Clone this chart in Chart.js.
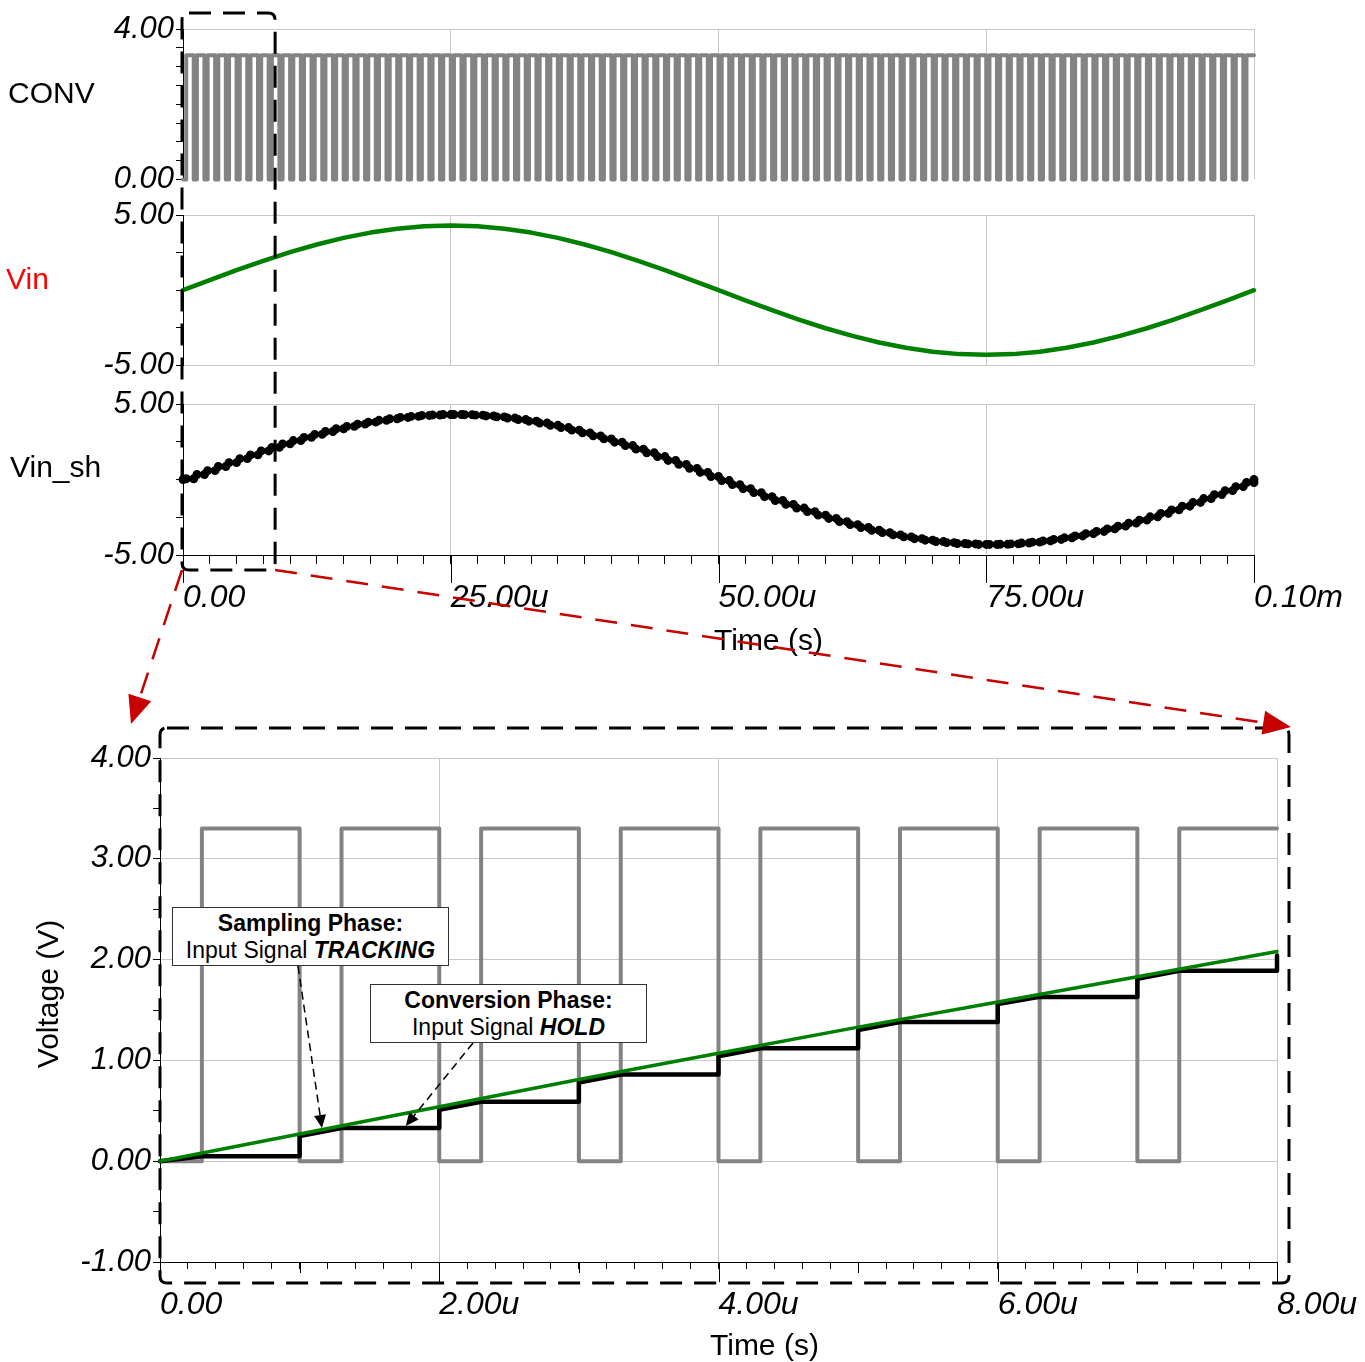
<!DOCTYPE html>
<html>
<head>
<meta charset="utf-8">
<script src="https://cdn.jsdelivr.net/npm/chart.js@4.4.1/dist/chart.umd.min.js"></script>
<style>
  body { margin: 0; background: #fff; font-family: "Liberation Sans", Arial, sans-serif; }
  #page { position: relative; width: 1365px; height: 1362px; overflow: hidden; }
  canvas { position: absolute; left: 0; }
  .lbl { position: absolute; font-size: 30px; line-height: 30px; white-space: nowrap; color: #000; }
  .note { position: absolute; box-sizing: border-box; width: 277px; height: 59px; padding-top: 2px;
          background: #fff; border: 1px solid #333; text-align: center; font-size: 23px; line-height: 27px; }
  #overlay { position: absolute; left: 0; top: 0; }
</style>
</head>
<body>
<div id="page">
  <canvas id="conv" width="1365" height="200" style="top:0px"></canvas>
  <canvas id="vin" width="1365" height="200" style="top:186px"></canvas>
  <canvas id="vinsh" width="1365" height="300" style="top:375px"></canvas>
  <canvas id="zoom" width="1365" height="662" style="top:700px"></canvas>

  <div class="lbl" style="left:8px;top:78px">CONV</div>
  <div class="lbl" style="left:6px;top:264px;color:#ff0000">Vin</div>
  <div class="lbl" style="left:10px;top:452px">Vin_sh</div>
  <div class="lbl" style="left:714px;top:625px">Time (s)</div>
  <div class="lbl" style="left:710px;top:1330px">Time (s)</div>
  <div class="lbl" style="left:-32px;top:979px;width:160px;text-align:center;transform:rotate(-90deg)">Voltage (V)</div>

  <div class="note" style="left:172px;top:907px"><b>Sampling Phase:</b><br>Input Signal <b><i>TRACKING</i></b></div>
  <div class="note" style="left:370px;top:984px"><b>Conversion Phase:</b><br>Input Signal <b><i>HOLD</i></b></div>

  <svg id="overlay" width="1365" height="1362"></svg>
</div>

<script>
// ---- data ----
const topTimeTicks = [0, 25, 50, 75, 100];
const topTimeLabels = ["0.00", "25.00u", "50.00u", "75.00u", "0.10m"];
const zoomTimeTicks = [0, 2, 4, 6, 8];
const zoomTimeLabels = ["0.00", "2.00u", "4.00u", "6.00u", "8.00u"];

// CONV clock: 1us period, goes high 0.3us into each period, low again at the period end
const convHigh = 3.3;
const convRise = 0.3;
const convFall = 1.0;
const convPeriodsTop = 100;
const convPeriodsZoom = 8;

// Vin over the full 0.1ms window, one value every 2.5us
const vinStep = 2.5;
const vinValues = [
  0, 0.67, 1.33, 1.95, 2.53, 3.04, 3.48, 3.83, 4.09, 4.25,
  4.30, 4.25, 4.09, 3.83, 3.48, 3.04, 2.53, 1.95, 1.33, 0.67,
  0, -0.67, -1.33, -1.95, -2.53, -3.04, -3.48, -3.83, -4.09, -4.25,
  -4.30, -4.25, -4.09, -3.83, -3.48, -3.04, -2.53, -1.95, -1.33, -0.67,
  0,
];

// Vin_sh held level in each 1us conversion period
const vinShHold = [
  0.05, 0.33, 0.59, 0.86, 1.12, 1.38, 1.63, 1.89, 2.13, 2.36,
  2.58, 2.79, 2.99, 3.18, 3.36, 3.52, 3.67, 3.80, 3.92, 4.02,
  4.11, 4.18, 4.24, 4.27, 4.30, 4.30, 4.29, 4.26, 4.21, 4.15,
  4.07, 3.97, 3.86, 3.74, 3.59, 3.44, 3.27, 3.09, 2.89, 2.69,
  2.47, 2.25, 2.01, 1.77, 1.52, 1.26, 1.00, 0.74, 0.47, 0.20,
  -0.07, -0.34, -0.61, -0.87, -1.14, -1.39, -1.65, -1.89, -2.13, -2.36,
  -2.58, -2.79, -2.99, -3.18, -3.36, -3.52, -3.67, -3.80, -3.92, -4.02,
  -4.11, -4.18, -4.24, -4.27, -4.30, -4.30, -4.29, -4.26, -4.21, -4.15,
  -4.07, -3.97, -3.86, -3.74, -3.59, -3.44, -3.27, -3.09, -2.89, -2.69,
  -2.47, -2.25, -2.01, -1.77, -1.52, -1.26, -1.00, -0.74, -0.47, -0.20,
];

// zoomed view, 0 - 8us
const zoomVinTime = [0, 1, 2, 3, 4, 5, 6, 7, 8];
const zoomVinValues = [0, 0.27, 0.54, 0.81, 1.07, 1.33, 1.58, 1.83, 2.08];
const zoomShTime = [0, 0.3, 1.0, 1.0, 1.3, 2.0, 2.0, 2.3, 3.0, 3.0, 3.3, 4.0, 4.0,
  4.3, 5.0, 5.0, 5.3, 6.0, 6.0, 6.3, 7.0, 7.0, 7.3, 8.0, 8.0];
const zoomShValues = [0, 0.05, 0.05, 0.25, 0.33, 0.33, 0.51, 0.59, 0.59, 0.78, 0.86, 0.86, 1.04,
  1.12, 1.12, 1.30, 1.38, 1.38, 1.56, 1.63, 1.63, 1.81, 1.89, 1.89, 2.04];

// ---- helpers ----
const FONT = "'Liberation Sans', Arial, sans-serif";
const GRID = "#c8c8c8";
const GRAY = "#838383";
const GREEN = "#008000";
const near = (a, b) => Math.abs(a - b) < 1e-6;
const pairs = (xs, ys) => xs.map((x, i) => ({ x: x, y: ys[i] }));

function clockPoints(periods) {
  const pts = [{ x: 0, y: 0 }];
  for (let n = 0; n < periods; n++) {
    pts.push({ x: n + convRise, y: 0 }, { x: n + convRise, y: convHigh }, { x: n + convFall, y: convHigh });
    if (n + convFall < periods) pts.push({ x: n + convFall, y: 0 });
  }
  return pts;
}

function holdPoints() {
  const pts = [{ x: 0, y: 0 }];
  vinShHold.forEach((v, n) => {
    pts.push({ x: n + convRise, y: v }, { x: n + convFall, y: v });
  });
  pts.push({ x: convPeriodsTop, y: vinValues[vinValues.length - 1] });
  return pts;
}

// extra-long tick marks on the time axis
const longTicks = {
  id: "longTicks",
  afterDraw(chart, args, opts) {
    if (!opts.sets) return;
    const x = chart.scales.x;
    const ctx = chart.ctx;
    ctx.save();
    ctx.strokeStyle = "#000";
    ctx.lineWidth = 1;
    opts.sets.forEach((set) => {
      set.values.forEach((v) => {
        const px = Math.round(x.getPixelForValue(v)) + 0.5;
        ctx.beginPath();
        ctx.moveTo(px, x.top);
        ctx.lineTo(px, x.top + set.length);
        ctx.stroke();
      });
    });
    ctx.restore();
  },
};

function yAxis(min, max, step, labelAt, gridAt, width) {
  return {
    min: min,
    max: max,
    afterFit: (s) => { s.width = width; },
    border: { display: true, color: "#000", width: 1 },
    grid: {
      color: (c) => (gridAt.some((v) => near(v, c.tick.value)) ? GRID : "rgba(0,0,0,0)"),
      tickColor: "#000",
      tickLength: 7,
    },
    ticks: {
      stepSize: step,
      autoSkip: false,
      padding: 2,
      color: "#000",
      font: { family: FONT, size: 31, style: "italic" },
      callback: (v) => (labelAt.some((l) => near(l, v)) ? v.toFixed(2) : ""),
    },
  };
}

function xAxis(max, step, gridEvery, height, showTicks, tickValues, tickLabels, padding, tickLength) {
  return {
    type: "linear",
    min: 0,
    max: max,
    afterFit: (s) => {
      s.height = height;
      s.paddingLeft = 0;
      s.paddingRight = 0;
    },
    border: { display: showTicks, color: "#000", width: 1 },
    grid: {
      color: (c) => {
        const v = c.tick.value;
        return v > 0 && near(v / gridEvery, Math.round(v / gridEvery)) ? GRID : "rgba(0,0,0,0)";
      },
      tickColor: "#000",
      tickLength: tickLength,
      drawTicks: showTicks,
    },
    ticks: {
      display: showTicks,
      stepSize: step,
      autoSkip: false,
      maxRotation: 0,
      minRotation: 0,
      align: "start",
      padding: padding,
      color: "#000",
      font: { family: FONT, size: 32, style: "italic" },
      callback: (v) => {
        const i = tickValues.findIndex((t) => near(t, v));
        return i >= 0 ? tickLabels[i] : "";
      },
    },
  };
}

function baseOptions(padding, scales, plugins) {
  return {
    responsive: false,
    animation: false,
    events: [],
    layout: { padding: padding },
    elements: { point: { radius: 0 }, line: { tension: 0 } },
    plugins: Object.assign({ legend: { display: false }, tooltip: { enabled: false } }, plugins || {}),
    scales: scales,
  };
}

const lineStyle = (color, width) => ({
  borderColor: color,
  backgroundColor: color,
  borderWidth: width,
  borderJoinStyle: "round",
  borderCapStyle: "round",
  pointRadius: 0,
  fill: false,
  clip: 6,
});

const topPad = { left: 0, right: 111, top: 29, bottom: 20 };

const convChart = new Chart(document.getElementById("conv"), {
  type: "line",
  data: { datasets: [Object.assign({ data: clockPoints(convPeriodsTop) }, lineStyle(GRAY, 4))] },
  options: baseOptions(topPad, {
    x: xAxis(100, 2.5, 25, 0, false, topTimeTicks, topTimeLabels, 15, 9),
    y: yAxis(0, 4, 0.5, [0, 4], [4], 183),
  }),
});

const vinChart = new Chart(document.getElementById("vin"), {
  type: "line",
  data: {
    datasets: [Object.assign({ data: vinValues.map((v, i) => ({ x: i * vinStep, y: v })) }, lineStyle(GREEN, 4.5))],
  },
  options: baseOptions(topPad, {
    x: xAxis(100, 2.5, 25, 0, false, topTimeTicks, topTimeLabels, 15, 9),
    y: yAxis(-5, 5, 2.5, [-5, 5], [-5, 5], 183),
  }),
});

const vinShChart = new Chart(document.getElementById("vinsh"), {
  type: "line",
  data: {
    datasets: [Object.assign({ data: holdPoints() }, lineStyle("#000", 4.5), { pointRadius: 2.2 })],
  },
  options: baseOptions({ left: 0, right: 111, top: 29, bottom: 0 }, {
    x: xAxis(100, 2.5, 25, 120, true, topTimeTicks, topTimeLabels, 15, 9),
    y: yAxis(-5, 5, 2.5, [-5, 5], [5], 183),
  }, { longTicks: { sets: [{ values: topTimeTicks, length: 28 }] } }),
  plugins: [longTicks],
});

const zoomChart = new Chart(document.getElementById("zoom"), {
  type: "line",
  data: {
    datasets: [
      Object.assign({ data: pairs(zoomVinTime, zoomVinValues), order: 0 }, lineStyle(GREEN, 3.5)),
      Object.assign({ data: pairs(zoomShTime, zoomShValues), order: 1 }, lineStyle("#000", 4.5)),
      Object.assign({ data: clockPoints(convPeriodsZoom), order: 2 }, lineStyle(GRAY, 4)),
    ],
  },
  options: baseOptions({ left: 0, right: 88, top: 58, bottom: 0 }, {
    x: xAxis(8, 0.2, 2, 100, true, zoomTimeTicks, zoomTimeLabels, 17, 7),
    y: yAxis(-1, 4, 0.5, [-1, 0, 1, 2, 3, 4], [0, 1, 2, 3, 4], 160),
  }, {
    longTicks: { sets: [{ values: [1, 3, 5, 7], length: 11 }, { values: zoomTimeTicks, length: 20 }] },
  }),
  plugins: [longTicks],
});

// ---- overlay: zoom boxes, red arrows, annotation leaders ----
const svg = document.getElementById("overlay");
const NS = "http://www.w3.org/2000/svg";

function add(tag, attrs) {
  const el = document.createElementNS(NS, tag);
  Object.keys(attrs).forEach((k) => el.setAttribute(k, attrs[k]));
  svg.appendChild(el);
  return el;
}

function roundRect(x1, y1, x2, y2, r) {
  return `M${x1 + r},${y1} H${x2 - r} Q${x2},${y1} ${x2},${y1 + r} V${y2 - r} Q${x2},${y2} ${x2 - r},${y2} ` +
    `H${x1 + r} Q${x1},${y2} ${x1},${y2 - r} V${y1 + r} Q${x1},${y1} ${x1 + r},${y1} Z`;
}

function arrow(x1, y1, x2, y2, color, width, dash, headLen, headHalf) {
  const len = Math.hypot(x2 - x1, y2 - y1);
  const ux = (x2 - x1) / len;
  const uy = (y2 - y1) / len;
  const bx = x2 - ux * headLen;
  const by = y2 - uy * headLen;
  add("line", { x1: x1, y1: y1, x2: bx, y2: by, stroke: color, "stroke-width": width, "stroke-dasharray": dash });
  add("polygon", {
    points: `${x2},${y2} ${bx - uy * headHalf},${by + ux * headHalf} ${bx + uy * headHalf},${by - ux * headHalf}`,
    fill: color,
  });
}

const topX = vinShChart.scales.x;
const zx = zoomChart.scales.x;
const zy = zoomChart.scales.y;
const zoomTop = 700;

const tb = {
  x1: topX.getPixelForValue(0) - 1,
  x2: topX.getPixelForValue(8.6),
  y1: convChart.chartArea.top - 16,
  y2: 375 + vinShChart.chartArea.bottom + 15,
};
const bb = {
  x1: zx.getPixelForValue(0),
  x2: zx.getPixelForValue(8) + 12,
  y1: zoomTop + zoomChart.chartArea.top - 30,
  y2: zoomTop + zoomChart.chartArea.bottom + 21,
};

add("path", { d: roundRect(tb.x1, tb.y1, tb.x2, tb.y2, 7), fill: "none", stroke: "#000", "stroke-width": 3, "stroke-dasharray": "22 12" });
add("path", { d: roundRect(bb.x1, bb.y1, bb.x2, bb.y2, 7), fill: "none", stroke: "#000", "stroke-width": 3, "stroke-dasharray": "22 12" });

arrow(tb.x1, tb.y2, bb.x1 - 29, bb.y1 - 4, "#c80000", 2.5, "22 14", 28, 12);
arrow(tb.x2, tb.y2, bb.x2 + 2, bb.y1 - 1, "#c80000", 2.5, "22 14", 28, 12);

arrow(298, 966, zx.getPixelForValue(1.16), zoomTop + zy.getPixelForValue(0.33), "#000", 1.5, "8 5", 13, 6);
arrow(473, 1043, zx.getPixelForValue(1.76), zoomTop + zy.getPixelForValue(0.35), "#000", 1.5, "8 5", 13, 6);
</script>
</body>
</html>
